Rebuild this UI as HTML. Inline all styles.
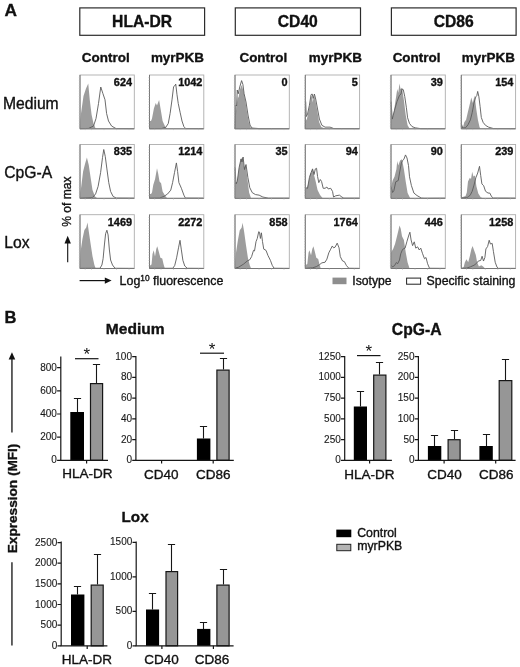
<!DOCTYPE html>
<html lang="en"><head><meta charset="utf-8"><title>Figure</title>
<style>html,body{margin:0;padding:0;background:#fff}body{width:520px;height:667px;overflow:hidden}svg{display:block}text{font-family:"Liberation Sans", sans-serif;fill:#111;stroke:#111;stroke-width:.35px;stroke-linejoin:round}</style>
</head><body>
<svg width="520" height="667" viewBox="0 0 520 667">
<rect width="520" height="667" fill="#fff"/>
<text x="4.6" y="16.2" font-size="17.3" font-weight="700">A</text>
<rect x="79.80" y="7.9" width="124.80" height="27.4" fill="#fff" stroke="#2c2c2c" stroke-width="1.2"/>
<text x="142.10" y="27.4" text-anchor="middle" font-size="15.65" font-weight="700">HLA-DR</text>
<rect x="235.30" y="7.9" width="125.20" height="27.4" fill="#fff" stroke="#2c2c2c" stroke-width="1.2"/>
<text x="297.80" y="27.4" text-anchor="middle" font-size="15.65" font-weight="700">CD40</text>
<rect x="391.40" y="7.9" width="124.70" height="27.4" fill="#fff" stroke="#2c2c2c" stroke-width="1.2"/>
<text x="453.65" y="27.4" text-anchor="middle" font-size="15.65" font-weight="700">CD86</text>
<text x="105.75" y="61.7" text-anchor="middle" font-size="13.45" font-weight="700">Control</text>
<text x="177.45" y="61.7" text-anchor="middle" font-size="13.45" font-weight="700">myrPKB</text>
<text x="263.35" y="61.7" text-anchor="middle" font-size="13.45" font-weight="700">Control</text>
<text x="335.35" y="61.7" text-anchor="middle" font-size="13.45" font-weight="700">myrPKB</text>
<text x="416.55" y="61.7" text-anchor="middle" font-size="13.45" font-weight="700">Control</text>
<text x="488.35" y="61.7" text-anchor="middle" font-size="13.45" font-weight="700">myrPKB</text>
<text x="2.9" y="108.7" font-size="15.7">Medium</text>
<text x="4.2" y="178.3" font-size="15.7">CpG-A</text>
<text x="4.2" y="248.0" font-size="15.7">Lox</text>
<g>
<polygon points="80.00,129.00 80.30,120.00 81.00,113.50 83.50,96.00 86.00,88.50 88.25,83.50 89.75,99.75 91.60,114.75 93.50,123.50 95.40,128.00 97.00,128.80 97.30,128.80" fill="#9d9d9d"/>
<polyline points="80.00,128.65 88.50,128.45 93.50,126.05 96.00,118.54 98.50,103.53 100.75,87.01 102.90,93.52 105.00,99.77 106.60,113.54 108.50,121.04 111.60,126.05 116.00,128.55 134.00,128.65" fill="none" stroke="#5a5a5a" stroke-width="0.9" stroke-linejoin="round"/>
<rect x="80.00" y="75.00" width="54.30" height="53.80" fill="none" stroke="#adadad" stroke-width="0.9"/>
<path d="M80.00 75.00V128.80H134.30" fill="none" stroke="#777" stroke-width="1"/>
<path d="M80.00 126.11h-1.2M80.00 123.42h-1.2M80.00 120.73h-1.2M80.00 118.04h-1.2M80.00 115.35h-1.2M80.00 112.66h-1.2M80.00 109.97h-1.2M80.00 107.28h-1.2M80.00 104.59h-1.2M80.00 101.90h-1.2M80.00 99.21h-1.2M80.00 96.52h-1.2M80.00 93.83h-1.2M80.00 91.14h-1.2M80.00 88.45h-1.2M80.00 85.76h-1.2M80.00 83.07h-1.2M80.00 80.38h-1.2M80.00 77.69h-1.2M85.20 128.80v1.3M91.50 128.80v1.3M104.00 128.80v1.3M116.50 128.80v1.3M129.00 128.80v1.3" stroke="#b5b5b5" stroke-width="0.6" fill="none"/>
<text x="132.00" y="85.90" text-anchor="end" font-size="10.9" font-weight="700">624</text>
</g>
<g>
<polygon points="149.50,129.00 149.50,121.00 151.00,121.00 152.00,118.50 153.90,108.50 155.75,102.90 157.00,105.40 159.10,100.00 160.75,109.75 162.60,121.00 165.10,126.60 167.00,128.50 167.30,128.80" fill="#9d9d9d"/>
<polyline points="149.50,128.65 161.50,128.55 165.75,127.30 168.25,123.55 170.10,113.54 172.00,99.77 173.60,86.61 174.60,86.01 175.75,84.11 177.00,94.77 178.25,103.53 180.10,112.28 182.00,121.04 183.90,126.65 185.75,128.55 203.50,128.65" fill="none" stroke="#5a5a5a" stroke-width="0.9" stroke-linejoin="round"/>
<rect x="149.50" y="75.00" width="54.30" height="53.80" fill="none" stroke="#adadad" stroke-width="0.9"/>
<path d="M149.50 75.00V128.80H203.80" fill="none" stroke="#777" stroke-width="1"/>
<path d="M149.50 126.11h-1.2M149.50 123.42h-1.2M149.50 120.73h-1.2M149.50 118.04h-1.2M149.50 115.35h-1.2M149.50 112.66h-1.2M149.50 109.97h-1.2M149.50 107.28h-1.2M149.50 104.59h-1.2M149.50 101.90h-1.2M149.50 99.21h-1.2M149.50 96.52h-1.2M149.50 93.83h-1.2M149.50 91.14h-1.2M149.50 88.45h-1.2M149.50 85.76h-1.2M149.50 83.07h-1.2M149.50 80.38h-1.2M149.50 77.69h-1.2M154.70 128.80v1.3M161.00 128.80v1.3M173.50 128.80v1.3M186.00 128.80v1.3M198.50 128.80v1.3" stroke="#b5b5b5" stroke-width="0.6" fill="none"/>
<text x="202.40" y="85.90" text-anchor="end" font-size="10.9" font-weight="700">1042</text>
</g>
<g>
<polygon points="235.00,129.00 235.00,121.00 236.60,105.00 237.90,96.25 238.50,98.00 239.75,90.00 241.60,85.00 243.50,91.25 245.40,101.25 247.25,113.75 249.10,123.75 251.00,128.10 259.75,128.90" fill="#9d9d9d"/>
<polyline points="235.00,129.05 235.50,115.04 235.90,105.03 236.60,106.03 237.25,90.01 238.25,93.77 239.75,86.91 241.60,80.61 242.90,84.41 244.10,93.77 246.00,102.03 248.00,115.04 250.00,125.05 252.00,128.05 260.00,128.65 289.00,128.65" fill="none" stroke="#5a5a5a" stroke-width="0.9" stroke-linejoin="round"/>
<rect x="235.00" y="75.00" width="54.30" height="53.80" fill="none" stroke="#adadad" stroke-width="0.9"/>
<path d="M235.00 75.00V128.80H289.30" fill="none" stroke="#777" stroke-width="1"/>
<path d="M235.00 126.11h-1.2M235.00 123.42h-1.2M235.00 120.73h-1.2M235.00 118.04h-1.2M235.00 115.35h-1.2M235.00 112.66h-1.2M235.00 109.97h-1.2M235.00 107.28h-1.2M235.00 104.59h-1.2M235.00 101.90h-1.2M235.00 99.21h-1.2M235.00 96.52h-1.2M235.00 93.83h-1.2M235.00 91.14h-1.2M235.00 88.45h-1.2M235.00 85.76h-1.2M235.00 83.07h-1.2M235.00 80.38h-1.2M235.00 77.69h-1.2M240.20 128.80v1.3M246.50 128.80v1.3M259.00 128.80v1.3M271.50 128.80v1.3M284.00 128.80v1.3" stroke="#b5b5b5" stroke-width="0.6" fill="none"/>
<text x="287.50" y="85.90" text-anchor="end" font-size="10.9" font-weight="700">0</text>
</g>
<g>
<polygon points="305.30,129.00 305.30,121.50 306.90,119.00 308.80,110.00 310.30,102.00 311.40,95.80 312.20,97.00 312.70,102.50 313.30,99.00 314.40,95.80 315.60,101.50 317.30,111.00 319.10,122.00 321.30,127.10 325.05,128.50 325.35,128.80" fill="#9d9d9d"/>
<polyline points="305.30,129.05 305.60,101.52 306.30,116.54 307.55,114.04 309.40,105.28 311.05,94.62 312.20,94.02 313.20,98.42 314.40,94.02 315.70,99.02 317.55,109.03 319.40,119.04 321.90,125.30 325.05,127.15 330.05,127.15 333.80,128.55 359.30,128.65" fill="none" stroke="#5a5a5a" stroke-width="0.9" stroke-linejoin="round"/>
<rect x="305.30" y="75.00" width="54.30" height="53.80" fill="none" stroke="#adadad" stroke-width="0.9"/>
<path d="M305.30 75.00V128.80H359.60" fill="none" stroke="#777" stroke-width="1"/>
<path d="M305.30 126.11h-1.2M305.30 123.42h-1.2M305.30 120.73h-1.2M305.30 118.04h-1.2M305.30 115.35h-1.2M305.30 112.66h-1.2M305.30 109.97h-1.2M305.30 107.28h-1.2M305.30 104.59h-1.2M305.30 101.90h-1.2M305.30 99.21h-1.2M305.30 96.52h-1.2M305.30 93.83h-1.2M305.30 91.14h-1.2M305.30 88.45h-1.2M305.30 85.76h-1.2M305.30 83.07h-1.2M305.30 80.38h-1.2M305.30 77.69h-1.2M310.50 128.80v1.3M316.80 128.80v1.3M329.30 128.80v1.3M341.80 128.80v1.3M354.30 128.80v1.3" stroke="#b5b5b5" stroke-width="0.6" fill="none"/>
<text x="357.80" y="85.90" text-anchor="end" font-size="10.9" font-weight="700">5</text>
</g>
<g>
<polygon points="391.00,129.00 391.00,106.50 392.60,119.00 393.90,111.50 395.75,99.00 397.25,89.00 398.25,92.75 399.50,83.40 400.50,89.00 402.00,87.75 403.90,100.25 405.75,115.25 407.60,125.25 409.50,128.50 409.80,128.80" fill="#9d9d9d"/>
<polyline points="391.00,101.52 392.25,119.04 394.50,110.28 397.00,101.52 399.50,95.27 401.00,94.02 402.00,89.01 403.25,89.61 404.75,96.52 406.40,107.78 407.60,117.79 409.50,123.45 412.00,126.55 415.10,127.80 420.75,128.65 445.00,128.65" fill="none" stroke="#5a5a5a" stroke-width="0.9" stroke-linejoin="round"/>
<rect x="391.00" y="75.00" width="54.30" height="53.80" fill="none" stroke="#adadad" stroke-width="0.9"/>
<path d="M391.00 75.00V128.80H445.30" fill="none" stroke="#777" stroke-width="1"/>
<path d="M391.00 126.11h-1.2M391.00 123.42h-1.2M391.00 120.73h-1.2M391.00 118.04h-1.2M391.00 115.35h-1.2M391.00 112.66h-1.2M391.00 109.97h-1.2M391.00 107.28h-1.2M391.00 104.59h-1.2M391.00 101.90h-1.2M391.00 99.21h-1.2M391.00 96.52h-1.2M391.00 93.83h-1.2M391.00 91.14h-1.2M391.00 88.45h-1.2M391.00 85.76h-1.2M391.00 83.07h-1.2M391.00 80.38h-1.2M391.00 77.69h-1.2M396.20 128.80v1.3M402.50 128.80v1.3M415.00 128.80v1.3M427.50 128.80v1.3M440.00 128.80v1.3" stroke="#b5b5b5" stroke-width="0.6" fill="none"/>
<text x="442.80" y="85.90" text-anchor="end" font-size="10.9" font-weight="700">39</text>
</g>
<g>
<polygon points="461.30,129.00 461.30,122.30 463.10,127.00 464.30,122.30 466.10,119.80 468.00,111.40 469.80,104.00 471.30,97.40 472.80,102.90 474.60,95.60 476.40,110.10 477.90,119.80 479.50,127.00 480.30,128.50 480.60,128.80" fill="#9d9d9d"/>
<polyline points="461.30,124.75 462.50,128.05 465.55,127.75 468.00,124.75 470.40,119.84 472.20,112.64 474.00,102.93 475.80,96.82 476.80,95.62 477.70,91.42 478.90,96.82 480.10,106.53 481.30,117.44 483.10,122.34 485.50,125.35 488.60,127.15 493.40,128.55 515.30,128.65" fill="none" stroke="#5a5a5a" stroke-width="0.9" stroke-linejoin="round"/>
<rect x="461.30" y="75.00" width="54.30" height="53.80" fill="none" stroke="#adadad" stroke-width="0.9"/>
<path d="M461.30 75.00V128.80H515.60" fill="none" stroke="#777" stroke-width="1"/>
<path d="M461.30 126.11h-1.2M461.30 123.42h-1.2M461.30 120.73h-1.2M461.30 118.04h-1.2M461.30 115.35h-1.2M461.30 112.66h-1.2M461.30 109.97h-1.2M461.30 107.28h-1.2M461.30 104.59h-1.2M461.30 101.90h-1.2M461.30 99.21h-1.2M461.30 96.52h-1.2M461.30 93.83h-1.2M461.30 91.14h-1.2M461.30 88.45h-1.2M461.30 85.76h-1.2M461.30 83.07h-1.2M461.30 80.38h-1.2M461.30 77.69h-1.2M466.50 128.80v1.3M472.80 128.80v1.3M485.30 128.80v1.3M497.80 128.80v1.3M510.30 128.80v1.3" stroke="#b5b5b5" stroke-width="0.6" fill="none"/>
<text x="513.30" y="85.90" text-anchor="end" font-size="10.9" font-weight="700">154</text>
</g>
<g>
<polygon points="80.00,198.50 80.30,192.50 81.25,186.50 83.10,171.50 85.00,163.90 86.90,157.60 88.75,165.10 90.60,177.50 92.50,190.10 95.00,196.40 97.00,198.00 97.30,198.30" fill="#9d9d9d"/>
<polyline points="80.00,198.15 92.50,197.55 95.60,193.95 98.10,186.44 100.60,172.63 102.50,157.61 103.75,149.50 105.25,156.41 106.90,168.92 108.75,182.64 110.60,191.44 113.10,196.45 116.25,198.05 134.00,198.15" fill="none" stroke="#5a5a5a" stroke-width="0.9" stroke-linejoin="round"/>
<rect x="80.00" y="144.50" width="54.30" height="53.80" fill="none" stroke="#adadad" stroke-width="0.9"/>
<path d="M80.00 144.50V198.30H134.30" fill="none" stroke="#777" stroke-width="1"/>
<path d="M80.00 195.61h-1.2M80.00 192.92h-1.2M80.00 190.23h-1.2M80.00 187.54h-1.2M80.00 184.85h-1.2M80.00 182.16h-1.2M80.00 179.47h-1.2M80.00 176.78h-1.2M80.00 174.09h-1.2M80.00 171.40h-1.2M80.00 168.71h-1.2M80.00 166.02h-1.2M80.00 163.33h-1.2M80.00 160.64h-1.2M80.00 157.95h-1.2M80.00 155.26h-1.2M80.00 152.57h-1.2M80.00 149.88h-1.2M80.00 147.19h-1.2M85.20 198.30v1.3M91.50 198.30v1.3M104.00 198.30v1.3M116.50 198.30v1.3M129.00 198.30v1.3" stroke="#b5b5b5" stroke-width="0.6" fill="none"/>
<text x="132.00" y="155.40" text-anchor="end" font-size="10.9" font-weight="700">835</text>
</g>
<g>
<polygon points="149.50,198.50 149.50,193.90 151.00,193.90 152.00,192.50 153.25,185.10 155.10,178.90 157.00,168.25 158.25,173.90 159.50,181.40 161.10,183.25 162.60,191.40 165.10,195.75 167.00,198.00 167.30,198.30" fill="#9d9d9d"/>
<polyline points="149.50,198.15 159.50,198.05 163.90,196.45 167.60,193.95 170.75,190.14 172.60,182.64 174.50,172.63 176.40,162.92 177.60,171.43 178.90,182.64 181.40,188.29 183.90,195.15 185.40,198.05 203.50,198.15" fill="none" stroke="#5a5a5a" stroke-width="0.9" stroke-linejoin="round"/>
<rect x="149.50" y="144.50" width="54.30" height="53.80" fill="none" stroke="#adadad" stroke-width="0.9"/>
<path d="M149.50 144.50V198.30H203.80" fill="none" stroke="#777" stroke-width="1"/>
<path d="M149.50 195.61h-1.2M149.50 192.92h-1.2M149.50 190.23h-1.2M149.50 187.54h-1.2M149.50 184.85h-1.2M149.50 182.16h-1.2M149.50 179.47h-1.2M149.50 176.78h-1.2M149.50 174.09h-1.2M149.50 171.40h-1.2M149.50 168.71h-1.2M149.50 166.02h-1.2M149.50 163.33h-1.2M149.50 160.64h-1.2M149.50 157.95h-1.2M149.50 155.26h-1.2M149.50 152.57h-1.2M149.50 149.88h-1.2M149.50 147.19h-1.2M154.70 198.30v1.3M161.00 198.30v1.3M173.50 198.30v1.3M186.00 198.30v1.3M198.50 198.30v1.3" stroke="#b5b5b5" stroke-width="0.6" fill="none"/>
<text x="202.40" y="155.40" text-anchor="end" font-size="10.9" font-weight="700">1214</text>
</g>
<g>
<polygon points="235.00,198.50 235.00,182.50 237.25,181.40 239.10,167.60 241.00,158.90 242.90,157.60 244.10,167.60 245.75,165.10 247.25,177.60 249.10,192.60 251.00,198.00 251.30,198.30" fill="#9d9d9d"/>
<polyline points="235.00,167.52 236.00,183.94 237.25,181.43 239.10,167.62 241.00,158.91 242.00,162.02 243.10,157.01 244.50,169.52 246.00,164.52 247.90,177.63 249.75,187.64 252.25,192.64 255.40,194.55 259.10,195.15 262.90,197.05 268.50,198.15 289.00,198.15" fill="none" stroke="#5a5a5a" stroke-width="0.9" stroke-linejoin="round"/>
<rect x="235.00" y="144.50" width="54.30" height="53.80" fill="none" stroke="#adadad" stroke-width="0.9"/>
<path d="M235.00 144.50V198.30H289.30" fill="none" stroke="#777" stroke-width="1"/>
<path d="M235.00 195.61h-1.2M235.00 192.92h-1.2M235.00 190.23h-1.2M235.00 187.54h-1.2M235.00 184.85h-1.2M235.00 182.16h-1.2M235.00 179.47h-1.2M235.00 176.78h-1.2M235.00 174.09h-1.2M235.00 171.40h-1.2M235.00 168.71h-1.2M235.00 166.02h-1.2M235.00 163.33h-1.2M235.00 160.64h-1.2M235.00 157.95h-1.2M235.00 155.26h-1.2M235.00 152.57h-1.2M235.00 149.88h-1.2M235.00 147.19h-1.2M240.20 198.30v1.3M246.50 198.30v1.3M259.00 198.30v1.3M271.50 198.30v1.3M284.00 198.30v1.3" stroke="#b5b5b5" stroke-width="0.6" fill="none"/>
<text x="287.50" y="155.40" text-anchor="end" font-size="10.9" font-weight="700">35</text>
</g>
<g>
<polygon points="305.30,198.50 305.30,187.50 306.90,188.25 308.20,183.90 310.05,173.90 311.30,172.60 312.55,168.25 313.80,173.90 315.70,181.40 317.55,190.10 320.05,195.10 322.55,198.00 322.85,198.30" fill="#9d9d9d"/>
<polyline points="305.30,187.54 307.55,188.29 309.40,177.63 311.05,172.63 312.55,168.92 314.05,174.53 315.30,168.92 316.55,168.27 317.55,176.43 318.80,182.64 320.30,179.53 321.55,181.43 323.20,188.29 325.05,188.29 326.90,187.04 328.20,188.94 330.70,188.29 332.55,191.44 333.55,197.05 335.70,195.80 339.40,195.15 341.90,197.05 343.80,198.15 359.30,198.15" fill="none" stroke="#5a5a5a" stroke-width="0.9" stroke-linejoin="round"/>
<rect x="305.30" y="144.50" width="54.30" height="53.80" fill="none" stroke="#adadad" stroke-width="0.9"/>
<path d="M305.30 144.50V198.30H359.60" fill="none" stroke="#777" stroke-width="1"/>
<path d="M305.30 195.61h-1.2M305.30 192.92h-1.2M305.30 190.23h-1.2M305.30 187.54h-1.2M305.30 184.85h-1.2M305.30 182.16h-1.2M305.30 179.47h-1.2M305.30 176.78h-1.2M305.30 174.09h-1.2M305.30 171.40h-1.2M305.30 168.71h-1.2M305.30 166.02h-1.2M305.30 163.33h-1.2M305.30 160.64h-1.2M305.30 157.95h-1.2M305.30 155.26h-1.2M305.30 152.57h-1.2M305.30 149.88h-1.2M305.30 147.19h-1.2M310.50 198.30v1.3M316.80 198.30v1.3M329.30 198.30v1.3M341.80 198.30v1.3M354.30 198.30v1.3" stroke="#b5b5b5" stroke-width="0.6" fill="none"/>
<text x="357.80" y="155.40" text-anchor="end" font-size="10.9" font-weight="700">94</text>
</g>
<g>
<polygon points="391.00,198.50 391.00,188.00 392.60,180.50 394.50,176.75 396.40,169.25 397.25,161.10 398.25,165.50 400.10,160.50 402.00,159.25 403.90,169.25 405.75,181.75 407.60,193.00 410.10,198.00 410.40,198.30" fill="#9d9d9d"/>
<polyline points="391.00,186.79 392.60,192.44 393.90,190.54 395.75,181.78 398.25,180.53 399.50,173.03 401.40,163.02 402.60,160.51 403.90,159.26 405.50,154.91 407.00,158.01 408.50,165.52 409.50,176.78 411.40,185.54 413.90,193.05 417.00,195.55 421.40,198.05 424.00,198.25 445.00,198.15" fill="none" stroke="#5a5a5a" stroke-width="0.9" stroke-linejoin="round"/>
<rect x="391.00" y="144.50" width="54.30" height="53.80" fill="none" stroke="#adadad" stroke-width="0.9"/>
<path d="M391.00 144.50V198.30H445.30" fill="none" stroke="#777" stroke-width="1"/>
<path d="M391.00 195.61h-1.2M391.00 192.92h-1.2M391.00 190.23h-1.2M391.00 187.54h-1.2M391.00 184.85h-1.2M391.00 182.16h-1.2M391.00 179.47h-1.2M391.00 176.78h-1.2M391.00 174.09h-1.2M391.00 171.40h-1.2M391.00 168.71h-1.2M391.00 166.02h-1.2M391.00 163.33h-1.2M391.00 160.64h-1.2M391.00 157.95h-1.2M391.00 155.26h-1.2M391.00 152.57h-1.2M391.00 149.88h-1.2M391.00 147.19h-1.2M396.20 198.30v1.3M402.50 198.30v1.3M415.00 198.30v1.3M427.50 198.30v1.3M440.00 198.30v1.3" stroke="#b5b5b5" stroke-width="0.6" fill="none"/>
<text x="442.80" y="155.40" text-anchor="end" font-size="10.9" font-weight="700">90</text>
</g>
<g>
<polygon points="461.30,198.50 461.30,197.50 465.55,196.00 466.80,192.40 468.00,181.50 469.80,177.80 471.00,179.00 472.20,171.80 473.40,176.60 475.00,175.40 476.40,186.30 478.30,193.60 480.70,197.20 482.30,198.10 482.60,198.30" fill="#9d9d9d"/>
<polyline points="461.30,198.05 468.00,197.25 470.40,194.85 472.20,191.24 474.00,185.14 475.80,177.83 477.70,173.03 479.50,166.32 480.70,175.43 481.90,183.94 483.70,185.74 485.50,191.24 488.00,193.05 489.80,193.05 491.60,196.65 493.40,198.05 515.30,198.15" fill="none" stroke="#5a5a5a" stroke-width="0.9" stroke-linejoin="round"/>
<rect x="461.30" y="144.50" width="54.30" height="53.80" fill="none" stroke="#adadad" stroke-width="0.9"/>
<path d="M461.30 144.50V198.30H515.60" fill="none" stroke="#777" stroke-width="1"/>
<path d="M461.30 195.61h-1.2M461.30 192.92h-1.2M461.30 190.23h-1.2M461.30 187.54h-1.2M461.30 184.85h-1.2M461.30 182.16h-1.2M461.30 179.47h-1.2M461.30 176.78h-1.2M461.30 174.09h-1.2M461.30 171.40h-1.2M461.30 168.71h-1.2M461.30 166.02h-1.2M461.30 163.33h-1.2M461.30 160.64h-1.2M461.30 157.95h-1.2M461.30 155.26h-1.2M461.30 152.57h-1.2M461.30 149.88h-1.2M461.30 147.19h-1.2M466.50 198.30v1.3M472.80 198.30v1.3M485.30 198.30v1.3M497.80 198.30v1.3M510.30 198.30v1.3" stroke="#b5b5b5" stroke-width="0.6" fill="none"/>
<text x="513.30" y="155.40" text-anchor="end" font-size="10.9" font-weight="700">239</text>
</g>
<g>
<polygon points="80.00,268.70 80.20,259.70 80.60,251.20 82.50,238.70 84.40,229.95 86.25,227.45 87.50,222.45 88.75,231.20 90.60,243.70 92.50,256.20 94.40,264.95 95.60,268.20 95.90,268.50" fill="#9d9d9d"/>
<polyline points="80.00,268.35 100.00,268.25 101.90,265.00 103.10,258.74 104.40,244.98 105.60,233.72 106.90,230.21 108.10,234.97 109.40,249.98 110.60,259.99 112.50,265.00 115.00,268.25 134.00,268.35" fill="none" stroke="#5a5a5a" stroke-width="0.9" stroke-linejoin="round"/>
<rect x="80.00" y="214.70" width="54.30" height="53.80" fill="none" stroke="#adadad" stroke-width="0.9"/>
<path d="M80.00 214.70V268.50H134.30" fill="none" stroke="#777" stroke-width="1"/>
<path d="M80.00 265.81h-1.2M80.00 263.12h-1.2M80.00 260.43h-1.2M80.00 257.74h-1.2M80.00 255.05h-1.2M80.00 252.36h-1.2M80.00 249.67h-1.2M80.00 246.98h-1.2M80.00 244.29h-1.2M80.00 241.60h-1.2M80.00 238.91h-1.2M80.00 236.22h-1.2M80.00 233.53h-1.2M80.00 230.84h-1.2M80.00 228.15h-1.2M80.00 225.46h-1.2M80.00 222.77h-1.2M80.00 220.08h-1.2M80.00 217.39h-1.2M85.20 268.50v1.3M91.50 268.50v1.3M104.00 268.50v1.3M116.50 268.50v1.3M129.00 268.50v1.3" stroke="#b5b5b5" stroke-width="0.6" fill="none"/>
<text x="132.00" y="225.60" text-anchor="end" font-size="10.9" font-weight="700">1469</text>
</g>
<g>
<polygon points="149.50,268.70 149.50,265.30 151.00,265.30 151.60,264.10 152.50,254.10 153.75,250.30 155.00,256.60 156.25,249.10 157.25,246.30 158.75,251.60 160.40,257.80 162.25,258.45 163.50,264.10 164.75,268.20 165.05,268.50" fill="#9d9d9d"/>
<polyline points="149.50,268.35 172.90,268.25 174.75,265.35 176.60,257.84 178.50,247.83 180.00,240.32 181.25,249.13 182.90,260.34 184.75,266.00 187.25,268.25 203.50,268.35" fill="none" stroke="#5a5a5a" stroke-width="0.9" stroke-linejoin="round"/>
<rect x="149.50" y="214.70" width="54.30" height="53.80" fill="none" stroke="#adadad" stroke-width="0.9"/>
<path d="M149.50 214.70V268.50H203.80" fill="none" stroke="#777" stroke-width="1"/>
<path d="M149.50 265.81h-1.2M149.50 263.12h-1.2M149.50 260.43h-1.2M149.50 257.74h-1.2M149.50 255.05h-1.2M149.50 252.36h-1.2M149.50 249.67h-1.2M149.50 246.98h-1.2M149.50 244.29h-1.2M149.50 241.60h-1.2M149.50 238.91h-1.2M149.50 236.22h-1.2M149.50 233.53h-1.2M149.50 230.84h-1.2M149.50 228.15h-1.2M149.50 225.46h-1.2M149.50 222.77h-1.2M149.50 220.08h-1.2M149.50 217.39h-1.2M154.70 268.50v1.3M161.00 268.50v1.3M173.50 268.50v1.3M186.00 268.50v1.3M198.50 268.50v1.3" stroke="#b5b5b5" stroke-width="0.6" fill="none"/>
<text x="202.40" y="225.60" text-anchor="end" font-size="10.9" font-weight="700">2272</text>
</g>
<g>
<polygon points="235.00,268.70 235.30,260.70 236.00,252.80 237.90,240.30 239.75,230.30 241.60,227.80 242.60,222.80 244.10,231.60 246.00,245.30 247.90,257.80 249.75,265.30 251.00,268.20 251.30,268.50" fill="#9d9d9d"/>
<polyline points="235.00,268.25 238.50,267.25 243.50,264.15 247.25,260.99 249.75,259.74 251.60,256.64 253.50,250.33 254.50,250.98 256.00,241.63 257.25,238.47 258.75,231.62 259.50,232.22 260.40,238.47 261.40,232.82 262.50,241.63 263.75,249.13 266.00,250.33 267.90,255.34 270.40,260.34 272.25,265.35 274.10,268.25 289.00,268.35" fill="none" stroke="#5a5a5a" stroke-width="0.9" stroke-linejoin="round"/>
<rect x="235.00" y="214.70" width="54.30" height="53.80" fill="none" stroke="#adadad" stroke-width="0.9"/>
<path d="M235.00 214.70V268.50H289.30" fill="none" stroke="#777" stroke-width="1"/>
<path d="M235.00 265.81h-1.2M235.00 263.12h-1.2M235.00 260.43h-1.2M235.00 257.74h-1.2M235.00 255.05h-1.2M235.00 252.36h-1.2M235.00 249.67h-1.2M235.00 246.98h-1.2M235.00 244.29h-1.2M235.00 241.60h-1.2M235.00 238.91h-1.2M235.00 236.22h-1.2M235.00 233.53h-1.2M235.00 230.84h-1.2M235.00 228.15h-1.2M235.00 225.46h-1.2M235.00 222.77h-1.2M235.00 220.08h-1.2M235.00 217.39h-1.2M240.20 268.50v1.3M246.50 268.50v1.3M259.00 268.50v1.3M271.50 268.50v1.3M284.00 268.50v1.3" stroke="#b5b5b5" stroke-width="0.6" fill="none"/>
<text x="287.50" y="225.60" text-anchor="end" font-size="10.9" font-weight="700">858</text>
</g>
<g>
<polygon points="305.30,268.70 305.30,265.30 307.30,264.10 308.55,252.80 309.40,250.30 311.05,255.30 312.30,249.10 313.40,246.30 314.80,251.60 316.30,257.80 318.20,259.10 319.40,264.10 320.70,268.20 321.00,268.50" fill="#9d9d9d"/>
<polyline points="305.30,268.35 312.55,267.85 316.30,266.65 319.40,264.75 321.90,262.84 325.05,262.24 326.90,259.14 328.80,252.84 330.70,249.13 332.30,245.98 333.55,247.83 335.05,247.23 337.20,243.13 339.05,247.83 340.30,256.64 342.55,260.99 344.40,261.64 346.30,265.35 348.80,268.25 359.30,268.35" fill="none" stroke="#5a5a5a" stroke-width="0.9" stroke-linejoin="round"/>
<rect x="305.30" y="214.70" width="54.30" height="53.80" fill="none" stroke="#adadad" stroke-width="0.9"/>
<path d="M305.30 214.70V268.50H359.60" fill="none" stroke="#777" stroke-width="1"/>
<path d="M305.30 265.81h-1.2M305.30 263.12h-1.2M305.30 260.43h-1.2M305.30 257.74h-1.2M305.30 255.05h-1.2M305.30 252.36h-1.2M305.30 249.67h-1.2M305.30 246.98h-1.2M305.30 244.29h-1.2M305.30 241.60h-1.2M305.30 238.91h-1.2M305.30 236.22h-1.2M305.30 233.53h-1.2M305.30 230.84h-1.2M305.30 228.15h-1.2M305.30 225.46h-1.2M305.30 222.77h-1.2M305.30 220.08h-1.2M305.30 217.39h-1.2M310.50 268.50v1.3M316.80 268.50v1.3M329.30 268.50v1.3M341.80 268.50v1.3M354.30 268.50v1.3" stroke="#b5b5b5" stroke-width="0.6" fill="none"/>
<text x="357.80" y="225.60" text-anchor="end" font-size="10.9" font-weight="700">1764</text>
</g>
<g>
<polygon points="391.00,268.70 391.00,252.45 393.25,248.70 395.10,243.70 397.00,236.20 398.50,229.95 399.50,225.60 400.75,228.70 402.00,236.20 403.90,239.95 405.75,252.45 407.60,262.45 409.50,268.20 409.80,268.50" fill="#9d9d9d"/>
<polyline points="391.00,265.00 392.60,266.85 394.50,265.65 396.40,262.49 397.60,263.75 399.50,259.99 400.75,253.74 402.60,249.33 405.10,248.13 407.00,241.22 408.90,234.97 409.90,232.22 411.10,239.97 412.60,245.63 414.25,241.83 415.75,248.13 417.60,246.83 419.25,249.98 420.75,248.13 422.60,253.74 424.50,258.74 426.00,257.49 427.60,263.75 429.50,268.25 445.00,268.35" fill="none" stroke="#5a5a5a" stroke-width="0.9" stroke-linejoin="round"/>
<rect x="391.00" y="214.70" width="54.30" height="53.80" fill="none" stroke="#adadad" stroke-width="0.9"/>
<path d="M391.00 214.70V268.50H445.30" fill="none" stroke="#777" stroke-width="1"/>
<path d="M391.00 265.81h-1.2M391.00 263.12h-1.2M391.00 260.43h-1.2M391.00 257.74h-1.2M391.00 255.05h-1.2M391.00 252.36h-1.2M391.00 249.67h-1.2M391.00 246.98h-1.2M391.00 244.29h-1.2M391.00 241.60h-1.2M391.00 238.91h-1.2M391.00 236.22h-1.2M391.00 233.53h-1.2M391.00 230.84h-1.2M391.00 228.15h-1.2M391.00 225.46h-1.2M391.00 222.77h-1.2M391.00 220.08h-1.2M391.00 217.39h-1.2M396.20 268.50v1.3M402.50 268.50v1.3M415.00 268.50v1.3M427.50 268.50v1.3M440.00 268.50v1.3" stroke="#b5b5b5" stroke-width="0.6" fill="none"/>
<text x="442.80" y="225.60" text-anchor="end" font-size="10.9" font-weight="700">446</text>
</g>
<g>
<polygon points="461.30,268.70 461.30,268.20 463.70,267.10 464.90,262.20 466.50,259.20 468.20,262.20 469.80,256.20 471.40,248.90 472.60,245.90 474.00,250.10 475.80,254.90 477.10,262.20 478.90,266.50 481.30,265.20 483.10,266.50 484.90,268.20 485.20,268.50" fill="#9d9d9d"/>
<polyline points="461.30,268.35 466.80,268.05 470.40,266.85 474.00,265.25 476.40,263.45 478.30,261.04 480.70,260.44 482.10,256.24 483.50,261.04 484.90,257.44 485.90,248.93 487.60,246.53 489.20,240.22 490.40,244.03 492.20,243.43 493.40,251.33 495.20,262.24 497.00,267.15 498.30,268.35 515.30,268.35" fill="none" stroke="#5a5a5a" stroke-width="0.9" stroke-linejoin="round"/>
<rect x="461.30" y="214.70" width="54.30" height="53.80" fill="none" stroke="#adadad" stroke-width="0.9"/>
<path d="M461.30 214.70V268.50H515.60" fill="none" stroke="#777" stroke-width="1"/>
<path d="M461.30 265.81h-1.2M461.30 263.12h-1.2M461.30 260.43h-1.2M461.30 257.74h-1.2M461.30 255.05h-1.2M461.30 252.36h-1.2M461.30 249.67h-1.2M461.30 246.98h-1.2M461.30 244.29h-1.2M461.30 241.60h-1.2M461.30 238.91h-1.2M461.30 236.22h-1.2M461.30 233.53h-1.2M461.30 230.84h-1.2M461.30 228.15h-1.2M461.30 225.46h-1.2M461.30 222.77h-1.2M461.30 220.08h-1.2M461.30 217.39h-1.2M466.50 268.50v1.3M472.80 268.50v1.3M485.30 268.50v1.3M497.80 268.50v1.3M510.30 268.50v1.3" stroke="#b5b5b5" stroke-width="0.6" fill="none"/>
<text x="513.30" y="225.60" text-anchor="end" font-size="10.9" font-weight="700">1258</text>
</g>
<text transform="translate(71.3,226.8) rotate(-90)" font-size="12.6" textLength="50.4" lengthAdjust="spacingAndGlyphs">% of max</text>
<path d="M67.7 262.2V243" stroke="#111" stroke-width="1.1" fill="none"/>
<path d="M67.7 235.8L64.5 243.6H70.9Z" fill="#111"/>
<path d="M79.6 280.6H106" stroke="#111" stroke-width="1.2" fill="none"/>
<path d="M111.6 280.6L104.8 277.5V283.7Z" fill="#111"/>
<text x="119.6" y="285.2" font-size="12.4">Log<tspan font-size="8.4" dy="-4.4">10</tspan><tspan dy="4.4"> fluorescence</tspan></text>
<rect x="332.5" y="277.6" width="14" height="6.6" fill="#8e8e8e"/>
<text x="352.3" y="285.2" font-size="12.2">Isotype</text>
<rect x="406.6" y="278.1" width="14" height="6.1" fill="#fff" stroke="#222" stroke-width="1"/>
<text x="426.6" y="285.2" font-size="12.3">Specific staining</text>
<text x="4.6" y="323.2" font-size="16.5" font-weight="700">B</text>
<text x="105.8" y="334.4" font-size="15.55" font-weight="700">Medium</text>
<text x="391.8" y="334.5" font-size="15.7" font-weight="700">CpG-A</text>
<text x="121.6" y="522.3" font-size="15.2" font-weight="700">Lox</text>
<path d="M11.95 432.6V359" stroke="#111" stroke-width="1.3" fill="none"/>
<path d="M11.95 352.3L8.65 359.6H15.25Z" fill="#111"/>
<path d="M11.95 562.2V645.6" stroke="#111" stroke-width="1.3" fill="none"/>
<text transform="translate(17.1,553.2) rotate(-90)" font-size="13.6" textLength="109.6" lengthAdjust="spacingAndGlyphs" font-weight="700">Expression (MFI)</text>
<g>
<path d="M77.50 412.00V398.50M73.90 398.50H81.10" stroke="#161616" stroke-width="1.1" fill="none"/>
<rect x="70.30" y="412.00" width="13.70" height="48.30" fill="#000"/>
<path d="M96.50 383.00V364.50M92.90 364.50H100.10" stroke="#161616" stroke-width="1.1" fill="none"/>
<rect x="90.50" y="383.60" width="12.10" height="76.70" fill="#969696" stroke="#161616" stroke-width="1.2"/>
<path d="M60.80 356.50V460.30M60.80 367.70h-3.7M60.80 390.85h-3.7M60.80 414.00h-3.7M60.80 437.15h-3.7M60.80 460.30h-3.7M86.60 460.30v3.2" stroke="#161616" stroke-width="1.2" fill="none"/>
<path d="M60.20 460.30H108.00" stroke="#161616" stroke-width="1.3" fill="none"/>
<text x="56.90" y="370.70" text-anchor="end" font-size="10" style="fill:#1c1c1c;stroke-width:.12px">800</text>
<text x="56.90" y="393.85" text-anchor="end" font-size="10" style="fill:#1c1c1c;stroke-width:.12px">600</text>
<text x="56.90" y="417.00" text-anchor="end" font-size="10" style="fill:#1c1c1c;stroke-width:.12px">400</text>
<text x="56.90" y="440.15" text-anchor="end" font-size="10" style="fill:#1c1c1c;stroke-width:.12px">200</text>
<text x="56.90" y="463.30" text-anchor="end" font-size="10" style="fill:#1c1c1c;stroke-width:.12px">0</text>
<text x="87.40" y="478.20" text-anchor="middle" font-size="13.5">HLA-DR</text>
<path d="M75.00 358.70H98.50" stroke="#161616" stroke-width="1.2" fill="none"/>
<text x="86.75" y="360.30" text-anchor="middle" font-size="17" style="stroke:none">*</text>
</g>
<g>
<path d="M203.50 438.50V426.50M199.90 426.50H207.10" stroke="#161616" stroke-width="1.1" fill="none"/>
<rect x="196.90" y="438.50" width="13.50" height="21.80" fill="#000"/>
<path d="M223.50 369.50V358.50M219.90 358.50H227.10" stroke="#161616" stroke-width="1.1" fill="none"/>
<rect x="216.90" y="370.10" width="12.20" height="90.20" fill="#969696" stroke="#161616" stroke-width="1.2"/>
<path d="M135.90 356.00V460.30M135.90 356.55h-3.7M135.90 377.30h-3.7M135.90 398.05h-3.7M135.90 418.80h-3.7M135.90 439.55h-3.7M135.90 460.30h-3.7M161.60 460.30v3.2M213.20 460.30v3.2" stroke="#161616" stroke-width="1.2" fill="none"/>
<path d="M135.30 460.30H233.80" stroke="#161616" stroke-width="1.3" fill="none"/>
<text x="132.00" y="359.55" text-anchor="end" font-size="10" style="fill:#1c1c1c;stroke-width:.12px">100</text>
<text x="132.00" y="380.30" text-anchor="end" font-size="10" style="fill:#1c1c1c;stroke-width:.12px">80</text>
<text x="132.00" y="401.05" text-anchor="end" font-size="10" style="fill:#1c1c1c;stroke-width:.12px">60</text>
<text x="132.00" y="421.80" text-anchor="end" font-size="10" style="fill:#1c1c1c;stroke-width:.12px">40</text>
<text x="132.00" y="442.55" text-anchor="end" font-size="10" style="fill:#1c1c1c;stroke-width:.12px">20</text>
<text x="132.00" y="463.30" text-anchor="end" font-size="10" style="fill:#1c1c1c;stroke-width:.12px">0</text>
<text x="161.30" y="478.60" text-anchor="middle" font-size="13.5">CD40</text>
<text x="213.20" y="478.60" text-anchor="middle" font-size="13.5">CD86</text>
<path d="M200.00 353.20H224.00" stroke="#161616" stroke-width="1.2" fill="none"/>
<text x="212.00" y="354.60" text-anchor="middle" font-size="17" style="stroke:none">*</text>
</g>
<g>
<path d="M360.50 406.50V391.50M356.90 391.50H364.10" stroke="#161616" stroke-width="1.1" fill="none"/>
<rect x="353.80" y="406.50" width="13.20" height="53.80" fill="#000"/>
<path d="M379.50 374.50V362.50M375.90 362.50H383.10" stroke="#161616" stroke-width="1.1" fill="none"/>
<rect x="373.70" y="375.10" width="12.20" height="85.20" fill="#969696" stroke="#161616" stroke-width="1.2"/>
<path d="M344.70 356.00V460.30M344.70 356.55h-3.7M344.70 377.30h-3.7M344.70 398.05h-3.7M344.70 418.80h-3.7M344.70 439.55h-3.7M344.70 460.30h-3.7M369.60 460.30v3.2" stroke="#161616" stroke-width="1.2" fill="none"/>
<path d="M344.10 460.30H391.90" stroke="#161616" stroke-width="1.3" fill="none"/>
<text x="340.80" y="359.55" text-anchor="end" font-size="10" style="fill:#1c1c1c;stroke-width:.12px">1250</text>
<text x="340.80" y="380.30" text-anchor="end" font-size="10" style="fill:#1c1c1c;stroke-width:.12px">1000</text>
<text x="340.80" y="401.05" text-anchor="end" font-size="10" style="fill:#1c1c1c;stroke-width:.12px">750</text>
<text x="340.80" y="421.80" text-anchor="end" font-size="10" style="fill:#1c1c1c;stroke-width:.12px">500</text>
<text x="340.80" y="442.55" text-anchor="end" font-size="10" style="fill:#1c1c1c;stroke-width:.12px">250</text>
<text x="340.80" y="463.30" text-anchor="end" font-size="10" style="fill:#1c1c1c;stroke-width:.12px">0</text>
<text x="369.30" y="478.60" text-anchor="middle" font-size="13.5">HLA-DR</text>
<path d="M357.00 355.60H380.50" stroke="#161616" stroke-width="1.2" fill="none"/>
<text x="368.75" y="357.00" text-anchor="middle" font-size="17" style="stroke:none">*</text>
</g>
<g>
<path d="M434.50 446.00V435.50M430.90 435.50H438.10" stroke="#161616" stroke-width="1.1" fill="none"/>
<rect x="427.90" y="446.00" width="13.40" height="14.30" fill="#000"/>
<path d="M454.50 439.10V430.50M450.90 430.50H458.10" stroke="#161616" stroke-width="1.1" fill="none"/>
<rect x="448.10" y="439.70" width="12.00" height="20.60" fill="#969696" stroke="#161616" stroke-width="1.2"/>
<path d="M486.50 446.00V434.50M482.90 434.50H490.10" stroke="#161616" stroke-width="1.1" fill="none"/>
<rect x="479.40" y="446.00" width="13.40" height="14.30" fill="#000"/>
<path d="M505.50 380.00V359.50M501.90 359.50H509.10" stroke="#161616" stroke-width="1.1" fill="none"/>
<rect x="499.20" y="380.60" width="12.60" height="79.70" fill="#969696" stroke="#161616" stroke-width="1.2"/>
<path d="M418.40 356.00V460.30M418.40 356.55h-3.7M418.40 377.30h-3.7M418.40 398.05h-3.7M418.40 418.80h-3.7M418.40 439.55h-3.7M418.40 460.30h-3.7M444.10 460.30v3.2M495.70 460.30v3.2" stroke="#161616" stroke-width="1.2" fill="none"/>
<path d="M417.80 460.30H515.60" stroke="#161616" stroke-width="1.3" fill="none"/>
<text x="414.50" y="359.55" text-anchor="end" font-size="10" style="fill:#1c1c1c;stroke-width:.12px">250</text>
<text x="414.50" y="380.30" text-anchor="end" font-size="10" style="fill:#1c1c1c;stroke-width:.12px">200</text>
<text x="414.50" y="401.05" text-anchor="end" font-size="10" style="fill:#1c1c1c;stroke-width:.12px">150</text>
<text x="414.50" y="421.80" text-anchor="end" font-size="10" style="fill:#1c1c1c;stroke-width:.12px">100</text>
<text x="414.50" y="442.55" text-anchor="end" font-size="10" style="fill:#1c1c1c;stroke-width:.12px">50</text>
<text x="414.50" y="463.30" text-anchor="end" font-size="10" style="fill:#1c1c1c;stroke-width:.12px">0</text>
<text x="444.40" y="478.60" text-anchor="middle" font-size="13.5">CD40</text>
<text x="496.20" y="478.60" text-anchor="middle" font-size="13.5">CD86</text>
</g>
<g>
<path d="M77.50 594.50V586.50M73.90 586.50H81.10" stroke="#161616" stroke-width="1.1" fill="none"/>
<rect x="71.00" y="594.50" width="13.40" height="51.30" fill="#000"/>
<path d="M97.50 584.50V554.50M93.90 554.50H101.10" stroke="#161616" stroke-width="1.1" fill="none"/>
<rect x="91.20" y="585.10" width="12.00" height="60.70" fill="#969696" stroke="#161616" stroke-width="1.2"/>
<path d="M61.20 541.50V645.80M61.20 542.55h-3.7M61.20 563.20h-3.7M61.20 583.85h-3.7M61.20 604.50h-3.7M61.20 625.15h-3.7M61.20 645.80h-3.7M87.20 645.80v3.2" stroke="#161616" stroke-width="1.2" fill="none"/>
<path d="M60.60 645.80H107.40" stroke="#161616" stroke-width="1.3" fill="none"/>
<text x="57.30" y="545.55" text-anchor="end" font-size="10" style="fill:#1c1c1c;stroke-width:.12px">2500</text>
<text x="57.30" y="566.20" text-anchor="end" font-size="10" style="fill:#1c1c1c;stroke-width:.12px">2000</text>
<text x="57.30" y="586.85" text-anchor="end" font-size="10" style="fill:#1c1c1c;stroke-width:.12px">1500</text>
<text x="57.30" y="607.50" text-anchor="end" font-size="10" style="fill:#1c1c1c;stroke-width:.12px">1000</text>
<text x="57.30" y="628.15" text-anchor="end" font-size="10" style="fill:#1c1c1c;stroke-width:.12px">500</text>
<text x="57.30" y="648.80" text-anchor="end" font-size="10" style="fill:#1c1c1c;stroke-width:.12px">0</text>
<text x="87.00" y="664.00" text-anchor="middle" font-size="13.5">HLA-DR</text>
</g>
<g>
<path d="M152.50 609.50V593.50M148.90 593.50H156.10" stroke="#161616" stroke-width="1.1" fill="none"/>
<rect x="146.00" y="609.50" width="13.10" height="36.30" fill="#000"/>
<path d="M171.50 571.00V544.50M167.90 544.50H175.10" stroke="#161616" stroke-width="1.1" fill="none"/>
<rect x="166.00" y="571.60" width="11.60" height="74.20" fill="#969696" stroke="#161616" stroke-width="1.2"/>
<path d="M203.50 628.90V622.50M199.90 622.50H207.10" stroke="#161616" stroke-width="1.1" fill="none"/>
<rect x="197.10" y="628.90" width="13.30" height="16.90" fill="#000"/>
<path d="M223.50 584.50V569.50M219.90 569.50H227.10" stroke="#161616" stroke-width="1.1" fill="none"/>
<rect x="216.90" y="585.10" width="12.20" height="60.70" fill="#969696" stroke="#161616" stroke-width="1.2"/>
<path d="M136.20 541.50V645.80M136.20 542.30h-3.7M136.20 576.80h-3.7M136.20 611.30h-3.7M136.20 645.80h-3.7M161.90 645.80v3.2M213.40 645.80v3.2" stroke="#161616" stroke-width="1.2" fill="none"/>
<path d="M135.60 645.80H233.60" stroke="#161616" stroke-width="1.3" fill="none"/>
<text x="132.30" y="545.30" text-anchor="end" font-size="10" style="fill:#1c1c1c;stroke-width:.12px">1500</text>
<text x="132.30" y="579.80" text-anchor="end" font-size="10" style="fill:#1c1c1c;stroke-width:.12px">1000</text>
<text x="132.30" y="614.30" text-anchor="end" font-size="10" style="fill:#1c1c1c;stroke-width:.12px">500</text>
<text x="132.30" y="648.80" text-anchor="end" font-size="10" style="fill:#1c1c1c;stroke-width:.12px">0</text>
<text x="161.40" y="664.00" text-anchor="middle" font-size="13.5">CD40</text>
<text x="212.10" y="664.00" text-anchor="middle" font-size="13.5">CD86</text>
</g>
<rect x="336.3" y="529.6" width="15" height="7.6" fill="#000"/>
<rect x="336.8" y="544.3" width="14" height="6.4" fill="#b4b4b4" stroke="#222" stroke-width="1"/>
<text x="357.2" y="536.8" font-size="12.3">Control</text>
<text x="357.2" y="550.4" font-size="12.3">myrPKB</text>
</svg></body></html>
